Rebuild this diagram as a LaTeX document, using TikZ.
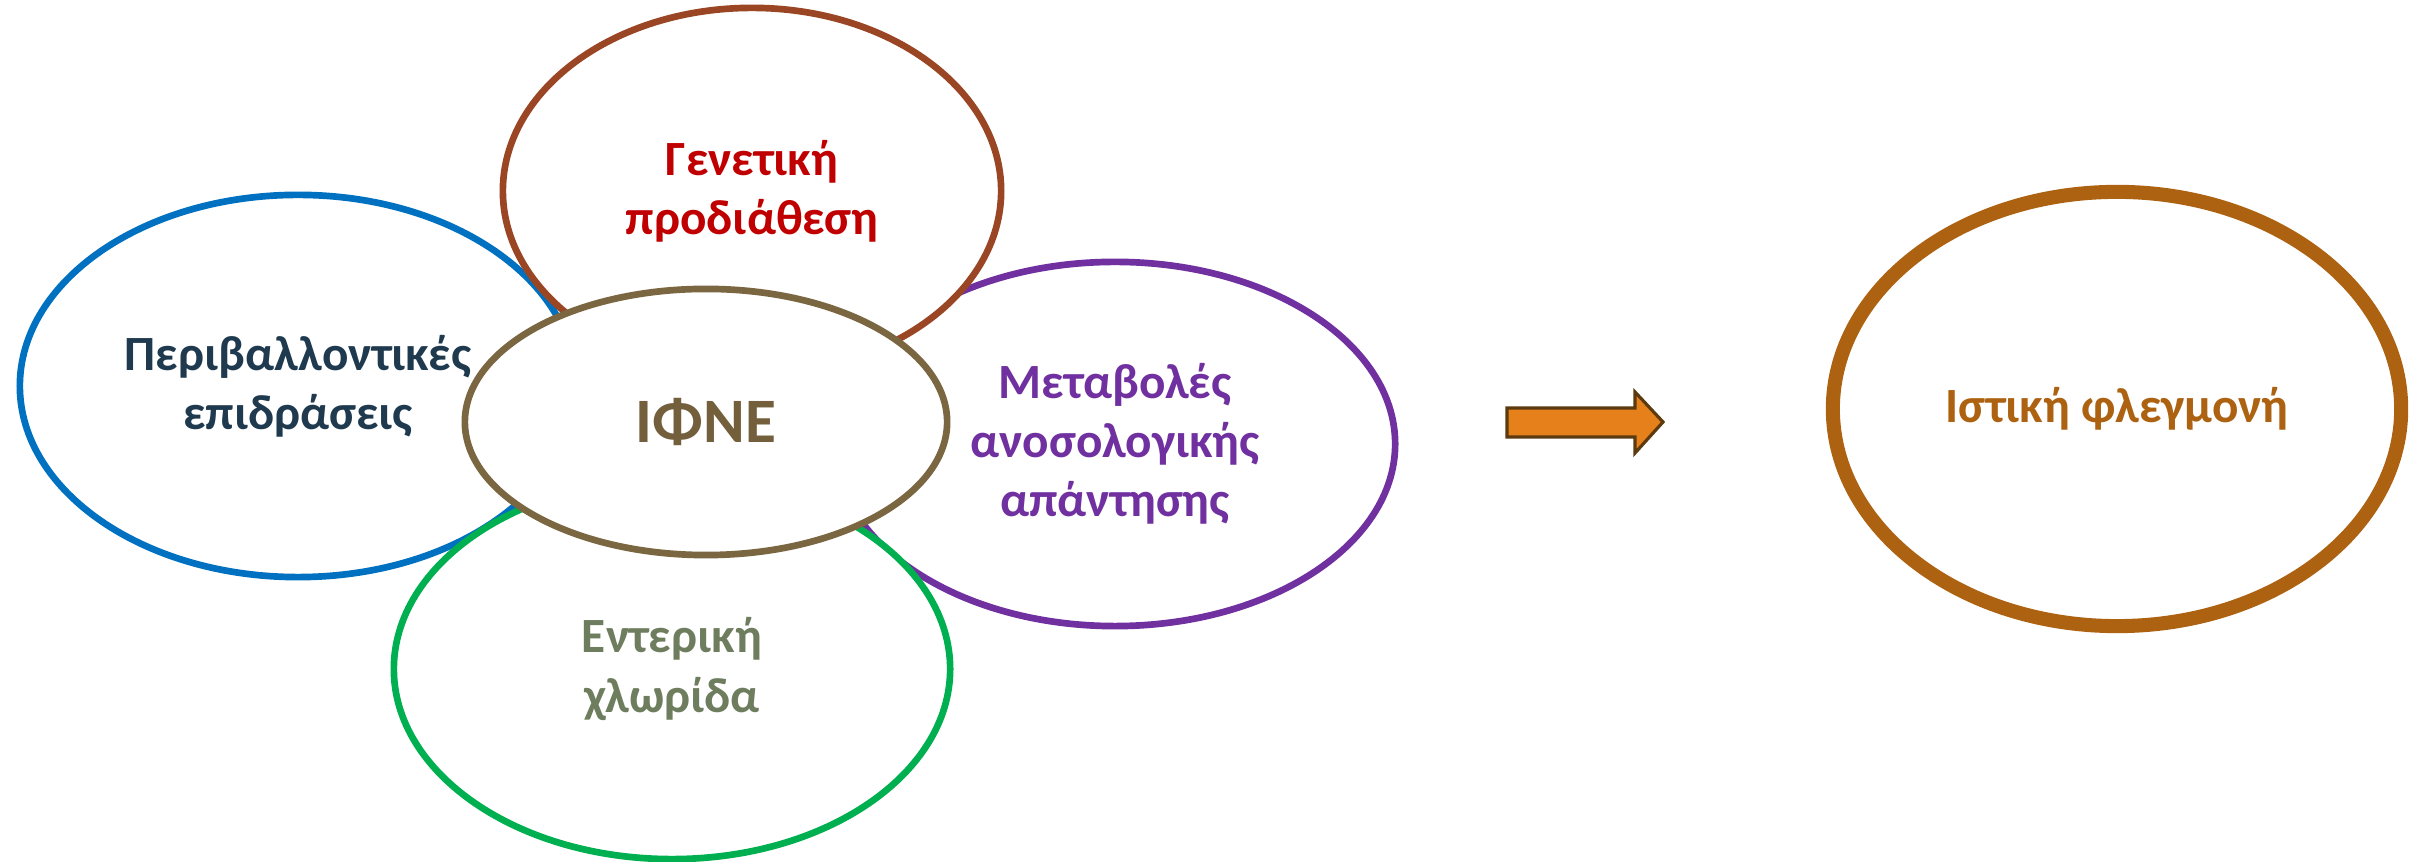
\documentclass[tikz,border=0pt]{standalone}
\usepackage{fontspec}
\setmainfont{Carlito}
\usetikzlibrary{shapes.geometric}

\definecolor{envblue}{HTML}{0070C0}
\definecolor{envtext}{HTML}{1F3A4F}
\definecolor{genbrown}{HTML}{9A4624}
\definecolor{genred}{HTML}{C00000}
\definecolor{immpurple}{HTML}{7030A0}
\definecolor{florgreen}{HTML}{00B050}
\definecolor{flortext}{HTML}{6E7D5E}
\definecolor{ifneline}{HTML}{7A6640}
\definecolor{ifnetext}{HTML}{735F3C}
\definecolor{inflbrown}{HTML}{AD6212}
\definecolor{arrowfill}{HTML}{E5801A}
\definecolor{arrowline}{HTML}{5C3A10}

\begin{document}
\begin{tikzpicture}[x=0.01cm,y=-0.01cm,
    every node/.style={align=center,font=\bfseries\fontsize{14}{16.8}\selectfont},
    blob/.style={ellipse,draw,fill=white,line width=1.9pt,inner sep=0pt}]
        \useasboundingbox (0,0) rectangle (2422,862);

        % factors round the centre
        \node[blob,draw=envblue,text=envtext,minimum width=5.56cm,minimum height=3.82cm] (env) at (298,386) {Περιβαλλοντικές\\επιδράσεις};
        \node[blob,draw=immpurple,text=immpurple,minimum width=5.60cm,minimum height=3.64cm] (imm) at (1115,444) {Μεταβολές\\ανοσολογικής\\απάντησης};
        \node[blob,draw=florgreen,text=flortext,minimum width=5.56cm,minimum height=3.80cm] (flora) at (672,669) {Εντερική\\χλωρίδα};
        \node[blob,draw=genbrown,text=genred,minimum width=4.98cm,minimum height=3.66cm] (gen) at (752,191) {Γενετική\\προδιάθεση};
        \node[blob,draw=ifneline,text=ifnetext,minimum width=4.82cm,minimum height=2.66cm,
              font=\bfseries\fontsize{18}{22}\selectfont] (ifne) at (706,422) {ΙΦΝΕ};

        % result
        \draw[fill=arrowfill,draw=arrowline,line width=0.9pt,line join=miter]
            (1507,408) -- (1635,408) -- (1635,392) -- (1663,422) -- (1635,453) -- (1635,437) -- (1507,437) -- cycle;
        \node[blob,draw=inflbrown,text=inflbrown,line width=4pt,minimum width=5.68cm,minimum height=4.34cm] (infl) at (2117,409) {Ιστική φλεγμονή};
      \end{tikzpicture}
\end{document}
